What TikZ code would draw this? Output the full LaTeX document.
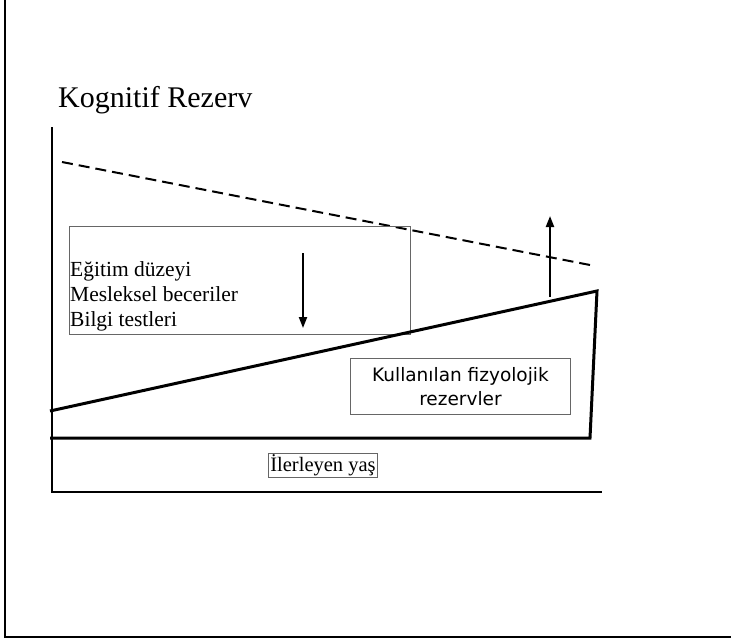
\documentclass[tikz,border=0pt]{standalone}
\usepackage{fontspec}
\setmainfont{Liberation Serif}
\newfontfamily\boxsans{DejaVu Sans}
\usetikzlibrary{arrows.meta}
\begin{document}
\begin{tikzpicture}[x=1pt,y=-1pt,
  frameline/.style={line width=2.5pt},
  axisline/.style={line width=2pt},
  curveline/.style={line width=3pt},
  dashline/.style={line width=2pt,dash pattern=on 11pt off 6pt},
  thinbox/.style={draw=black!60,line width=0.9pt},
  arrowline/.style={line width=2pt,-{Triangle[length=11pt,width=8pt]}}]
\useasboundingbox (0,0) rectangle (731,642);
% frame
\coordinate (f1) at (5,0);
\coordinate (f2) at (5,637);
\coordinate (f3) at (731,637);
\draw[frameline] (f1) -- (f2) -- (f3);
% title
\node[anchor=base west,inner sep=0pt,font=\fontsize{30}{33}\selectfont] (title) at (58,107) {Kognitif Rezerv};
% axes
\coordinate (ay) at (52,127);
\coordinate (ao) at (52,492);
\coordinate (ax) at (602,492);
\draw[axisline] (ay) -- (ao) -- (ax);
% dashed line
\coordinate (d1) at (62,162);
\coordinate (d2) at (590,265);
\draw[dashline] (d1) -- (d2);
% reserve box
\node[thinbox,minimum width=341pt,minimum height=108pt,anchor=north west,inner sep=0pt] (rbox) at (69,226) {};
\node[anchor=north west,align=left,inner sep=0pt,font=\fontsize{21.5}{25.2}\selectfont] (rtext) at (70,261) {Eğitim düzeyi\\Mesleksel beceriler\\Bilgi testleri};
% thick polygon
\coordinate (p1) at (50,411);
\coordinate (p2) at (597,291);
\coordinate (p3) at (590,438);
\coordinate (p4) at (50,438);
\draw[curveline,line join=miter] (p1) -- (p2) -- (p3) -- (p4);
% arrows
\coordinate (da1) at (303,253);
\coordinate (da2) at (303,328);
\draw[arrowline] (da1) -- (da2);
\coordinate (ua1) at (550,297);
\coordinate (ua2) at (550,216);
\draw[arrowline] (ua1) -- (ua2);
% physiological box
\node[thinbox,minimum width=220pt,minimum height=56pt,anchor=north west,inner sep=0pt] (pbox) at (350,358) {};
\node[align=center,inner sep=0pt,font=\boxsans\fontsize{18.5}{24}\selectfont] (ptext) at (pbox.center) {Kullanılan fizyolojik\\rezervler};
% age box
\node[thinbox,inner sep=1.5pt,font=\fontsize{20.5}{24}\selectfont] (age) at (323,465.5) {İlerleyen yaş};
\end{tikzpicture}
\end{document}
